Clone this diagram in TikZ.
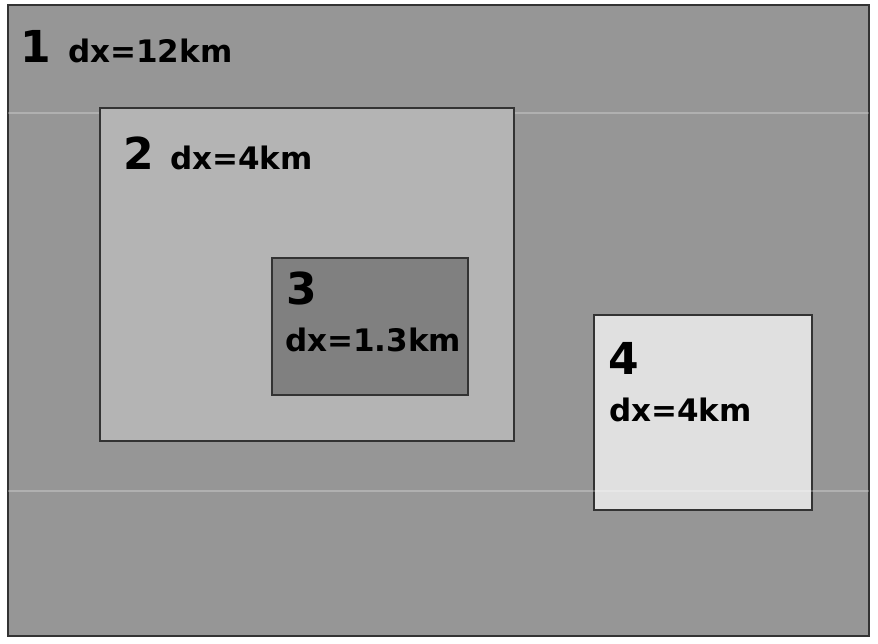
\documentclass[tikz,border=0pt]{standalone}
\usepackage{fontspec}
\setmainfont{DejaVu Sans}
\usetikzlibrary{positioning}
\definecolor{dgrey}{HTML}{969696}
\definecolor{dmid}{HTML}{B4B4B4}
\definecolor{ddark}{HTML}{808080}
\definecolor{dlight}{HTML}{E0E0E0}
\tikzset{
  nestbox/.style={draw=black!80, line width=1.6pt},
  scanline/.style={draw=white, opacity=0.25, line width=1.2pt},
  dnum/.style={anchor=base west, inner sep=0pt, font=\fontsize{44}{44}\selectfont\bfseries},
  dres/.style={anchor=base west, inner sep=0pt, font=\fontsize{31}{31}\selectfont\bfseries}
}

\begin{document}
\begin{tikzpicture}[x=1pt, y=-1pt]
	\useasboundingbox (0,0) rectangle (878,644);
	% domains
	\filldraw[nestbox, fill=dgrey] (8,5) rectangle (869,636);
	\draw[scanline] (8,113) -- (869,113);
	\filldraw[nestbox, fill=dmid] (100,108) rectangle (514,441);
	\filldraw[nestbox, fill=ddark] (272,258) rectangle (468,395);
	\filldraw[nestbox, fill=dlight] (594,315) rectangle (812,510);
	\draw[scanline] (8,491) -- (869,491);
	% labels
	\node[dnum] (n1) at (20,63) {1};
	\node[dres, right=17pt of n1.base east, anchor=base west] (r1) {dx=12km};
	\node[dnum] (n2) at (123,170) {2};
	\node[dres, right=16pt of n2.base east, anchor=base west] (r2) {dx=4km};
	\node[dnum] (n3) at (286,305) {3};
	\node[dres] (r3) at (285,351) {dx=1.3km};
	\node[dnum] (n4) at (608,374) {4};
	\node[dres] (r4) at (609,421) {dx=4km};
\end{tikzpicture}
\end{document}
